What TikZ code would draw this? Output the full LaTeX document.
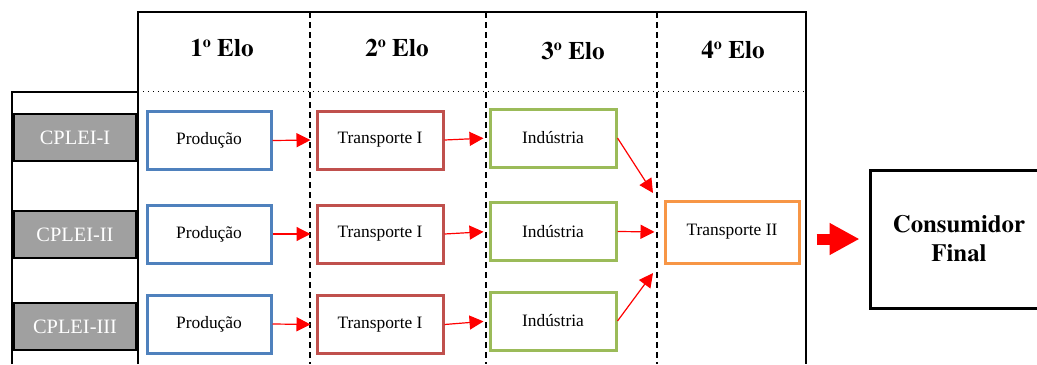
\documentclass[tikz,border=0pt]{standalone}
\usepackage{fontspec}
\setmainfont{Liberation Serif}
\newfontfamily\elofont{texgyretermes-bold.otf}
\usetikzlibrary{arrows.meta}
\definecolor{prodblue}{RGB}{79,129,189}
\definecolor{transred}{RGB}{192,80,77}
\definecolor{indgreen}{RGB}{155,187,89}
\definecolor{transorange}{RGB}{247,150,70}
\definecolor{cplgray}{RGB}{160,160,160}
\newcommand{\ordo}{\raisebox{0.75ex}{\fontsize{8}{8}\selectfont o}}
\begin{document}
\begin{tikzpicture}[x=0.5pt,y=-0.5pt,
	box/.style={draw,line width=1.5pt,fill=white,minimum width=62pt,minimum height=29pt,font=\fontsize{8.7}{10}\selectfont},
	elo/.style={font=\fontsize{12.6}{14}\selectfont\elofont},
	cplei/.style={draw,line width=1pt,fill=cplgray,text=white,minimum width=61pt,minimum height=23.5pt,font=\fontsize{10.2}{12}\selectfont},
	arr/.style={red,line width=0.6pt,-{Triangle[length=7pt,width=7pt]}}]
	\useasboundingbox (0,0) rectangle (1037,364);
	% frame
	\draw[line width=0.75pt] (138,364)--(138,12)--(806,12)--(806,364);
	\draw[line width=0.75pt] (12,364)--(12,92)--(138,92);
	\draw[dotted,line width=0.5pt] (138,91)--(806,91);
	\foreach \x in {310,486,657}
		\draw[dashed,line width=1pt,dash pattern=on 3pt off 2pt] (\x,12)--(\x,364);
	% headers
	\node[elo] (E1) at (222,48) {1\ordo\ Elo};
	\node[elo] (E2) at (397,48) {2\ordo\ Elo};
	\node[elo] (E3) at (573,51) {3\ordo\ Elo};
	\node[elo] (E4) at (733,50) {4\ordo\ Elo};
	% chains
	\node[cplei] (C1) at (75,137.5) {CPLEI-I};
	\node[cplei] (C2) at (75,234.5) {CPLEI-II};
	\node[cplei] (C3) at (75,326.5) {CPLEI-III};
	\node[box,draw=prodblue] (P1) at (209,140.5) {Produção};
	\node[box,draw=prodblue] (P2) at (209,234) {Produção};
	\node[box,draw=prodblue] (P3) at (209,324) {Produção};
	\node[box,draw=transred,minimum width=63pt] (T1) at (380,140) {Transporte I};
	\node[box,draw=transred,minimum width=63pt] (T2) at (380,234) {Transporte I};
	\node[box,draw=transred,minimum width=63pt] (T3) at (380,324.5) {Transporte I};
	\node[box,draw=indgreen,minimum width=63pt] (I1) at (553,138) {Indústria};
	\node[box,draw=indgreen,minimum width=63pt] (I2) at (553,231.5) {Indústria};
	\node[box,draw=indgreen,minimum width=63pt] (I3) at (553,321) {Indústria};
	\node[box,draw=transorange,minimum width=67pt,minimum height=31pt] (T4) at (732,232) {Transporte II};
	\node[draw,line width=1.5pt,minimum width=89pt,minimum height=69pt,align=center,font=\fontsize{12.4}{14.5}\selectfont\elofont] (CF) at (959,239) {Consumidor\\Final};
	\coordinate (J1) at (653,193);
	\coordinate (J3) at (653,273);
	\foreach \i in {1,2,3} {
		\draw[arr,shorten >=2.5pt] (P\i.east)--(T\i.west);
		\draw[arr,shorten >=2.5pt] (T\i.east)--(I\i.west);
	}
	\draw[arr] (I1.east)--(J1);
	\draw[arr,shorten >=4.5pt] (I2.east)--(T4.west);
	\draw[arr] (I3.east)--(J3);
	\draw[red,line width=5.5pt,-{Triangle[length=15pt,width=15pt]},shorten <=8pt,shorten >=4.5pt] (CF.west -| T4.east)--(CF.west);
\end{tikzpicture}
\end{document}
